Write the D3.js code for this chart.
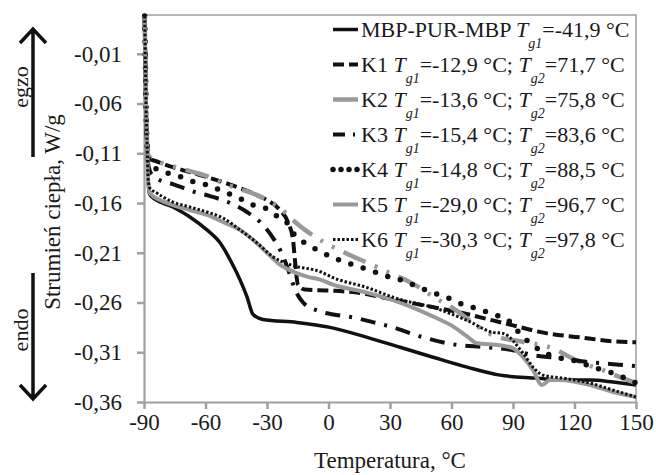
<!DOCTYPE html>
<html><head><meta charset="utf-8">
<script src="https://cdn.jsdelivr.net/npm/d3@7"></script>
<style>
body{margin:0;background:#fff}
svg{display:block}
text{font-family:"Liberation Serif","Times New Roman",serif;fill:#1a1a1a}
</style></head>
<body><svg id="c" width="656" height="475"></svg>
<script>
// ---- data ----
const xTicks = [-90, -60, -30, 0, 30, 60, 90, 120, 150];
const yTicks = [-0.36, -0.31, -0.26, -0.21, -0.16, -0.11, -0.06, -0.01];
const seriesNames = ["MBP-PUR-MBP", "K1", "K2", "K3", "K4", "K5", "K6"];
const tg1 = ["-41,9", "-12,9", "-13,6", "-15,4", "-14,8", "-29,0", "-30,3"];
const tg2 = [null, "71,7", "75,8", "83,6", "88,5", "96,7", "97,8"];

const spike = [[-89.7, 0.028], [-89.5, 0.005], [-89.2, -0.035], [-88.9, -0.075], [-88.5, -0.100]];

const dataMBP = [[-88.0,-0.135],[-87.4,-0.150],[-86.1,-0.154],[-75.9,-0.164],[-67.6,-0.174],[-59.3,-0.187],[-52.9,-0.200],[-48.0,-0.217],[-43.2,-0.237],[-39.8,-0.254],[-36.8,-0.272],[-32.0,-0.277],[-15.4,-0.280],[0.7,-0.285],[18.8,-0.295],[34.9,-0.305],[51.0,-0.315],[67.6,-0.325],[83.7,-0.333],[101.7,-0.336],[114.4,-0.338],[127.6,-0.338],[138.8,-0.340],[150,-0.343]];
const dataK1 = [[-88.2,-0.112],[-87.1,-0.116],[-85.6,-0.117],[-75.9,-0.124],[-67.6,-0.129],[-59.3,-0.134],[-51.5,-0.139],[-43.2,-0.145],[-34.9,-0.152],[-30.0,-0.157],[-23.7,-0.167],[-19.8,-0.179],[-17.3,-0.197],[-16.3,-0.219],[-14.9,-0.242],[-11.5,-0.247],[0.7,-0.248],[13.9,-0.250],[31.5,-0.257],[49.5,-0.264],[64.1,-0.270],[80.2,-0.278],[90.0,-0.283],[106.6,-0.291],[122.7,-0.295],[138.8,-0.299],[150,-0.300]];
const dataK2 = [[-88.2,-0.110],[-87.1,-0.114],[-85.6,-0.116],[-75.9,-0.123],[-67.6,-0.128],[-57.8,-0.134],[-51.5,-0.140],[-43.2,-0.146],[-34.9,-0.152],[-30.0,-0.157],[-23.7,-0.165],[-16.3,-0.179],[-11.5,-0.187],[-4.1,-0.197],[8.0,-0.210],[21.2,-0.222],[28.5,-0.229],[40.2,-0.240],[53.4,-0.257],[60.2,-0.265],[71.5,-0.282],[77.3,-0.290],[85.1,-0.296],[93.4,-0.299],[98.3,-0.301],[104.6,-0.303],[111.5,-0.308],[117.8,-0.315],[124.1,-0.321],[133.9,-0.328],[142.2,-0.335],[150,-0.341]];
const dataK3 = [[-88.0,-0.120],[-87.1,-0.128],[-84.1,-0.135],[-75.9,-0.141],[-65.1,-0.149],[-57.8,-0.153],[-48.0,-0.160],[-39.8,-0.169],[-33.4,-0.179],[-27.1,-0.195],[-22.7,-0.211],[-18.8,-0.232],[-16.3,-0.247],[-12.4,-0.260],[-5.6,-0.268],[2.2,-0.272],[12.0,-0.275],[20.2,-0.279],[31.5,-0.285],[44.6,-0.294],[60.7,-0.302],[77.3,-0.305],[90.0,-0.308],[99.8,-0.313],[112.9,-0.316],[127.6,-0.320],[138.8,-0.322],[150,-0.324]];
const dataK4 = [[-88.0,-0.115],[-87.1,-0.120],[-84.6,-0.125],[-78.3,-0.130],[-71.5,-0.134],[-65.1,-0.139],[-58.8,-0.142],[-52.9,-0.147],[-47.1,-0.152],[-41.7,-0.157],[-36.8,-0.162],[-31.0,-0.165],[-26.1,-0.172],[-20.2,-0.180],[-17.3,-0.190],[-12.4,-0.199],[-5.6,-0.207],[2.2,-0.215],[9.0,-0.220],[16.3,-0.225],[23.7,-0.230],[29.0,-0.234],[36.3,-0.238],[43.2,-0.244],[49.5,-0.249],[57.8,-0.255],[65.6,-0.262],[73.9,-0.267],[80.2,-0.272],[87.1,-0.277],[92.0,-0.288],[96.8,-0.298],[103.2,-0.308],[109.5,-0.314],[119.3,-0.318],[129.0,-0.325],[138.8,-0.331],[150,-0.341]];
const dataK5 = [[-88.0,-0.138],[-87.1,-0.150],[-82.2,-0.157],[-75.9,-0.162],[-67.6,-0.167],[-59.3,-0.172],[-51.5,-0.179],[-43.2,-0.187],[-36.8,-0.197],[-30.0,-0.210],[-23.7,-0.222],[-17.3,-0.229],[-10.5,-0.234],[-4.1,-0.237],[2.2,-0.242],[18.8,-0.250],[34.9,-0.260],[51.0,-0.274],[60.7,-0.284],[67.6,-0.294],[72.4,-0.301],[83.7,-0.303],[90.0,-0.306],[94.9,-0.315],[99.8,-0.328],[104.1,-0.343],[108.0,-0.338],[112.9,-0.338],[127.6,-0.343],[138.8,-0.350],[150,-0.355]];
const dataK6 = [[-88.0,-0.135],[-87.1,-0.145],[-83.7,-0.150],[-75.9,-0.159],[-67.6,-0.164],[-59.3,-0.169],[-51.5,-0.175],[-43.2,-0.187],[-34.9,-0.200],[-27.1,-0.214],[-18.8,-0.222],[-4.1,-0.229],[2.2,-0.235],[18.8,-0.245],[34.9,-0.257],[51.0,-0.265],[67.6,-0.278],[80.2,-0.290],[85.1,-0.291],[94.9,-0.311],[99.8,-0.325],[104.6,-0.333],[114.4,-0.336],[127.6,-0.341],[138.8,-0.348],[150,-0.355]];
const seriesData = [dataMBP, dataK1, dataK2, dataK3, dataK4, dataK5, dataK6];

// ---- styles ----
const styles = [
  {color:"#111", width:3.5, dash:null, cap:"butt"},
  {color:"#111", width:4, dash:"11,5", cap:"butt"},
  {color:"#999", width:4.5, dash:"24,10,3,10,3,10", cap:"butt"},
  {color:"#111", width:4, dash:"15,9,3,9", cap:"butt"},
  {color:"#111", width:5.5, dash:"0,13", cap:"round"},
  {color:"#999", width:4, dash:null, cap:"butt"},
  {color:"#111", width:3, dash:"2.5,2", cap:"butt"}
];

const svg = d3.select("#c");
const L = 144, R = 636, T = 15, B = 402;
const x = d3.scaleLinear().domain([-90, 150]).range([L, R]);
const y = d3.scaleLinear().domain([-0.36, 0.029]).range([B, T]);
const axisColor = "#a0a0a0";
const fmtY = v => (v < 0 ? "-" : "") + Math.abs(v).toFixed(2).replace(".", ",");
const fmtX = v => (v < 0 ? "-" : "") + Math.abs(v);

// plot border (top & right)
svg.append("path").attr("d", `M${L},${T}H${R}V${B}`).attr("fill","none")
  .attr("stroke", axisColor).attr("stroke-width", 1.5);

// axes
const gy = svg.append("g").attr("transform", `translate(${L},0)`)
  .call(d3.axisLeft(y).tickValues(yTicks).tickSize(7).tickSizeOuter(0).tickPadding(15).tickFormat(fmtY));
const gx = svg.append("g").attr("transform", `translate(0,${B})`)
  .call(d3.axisBottom(x).tickValues(xTicks).tickSize(7).tickSizeOuter(0).tickPadding(5).tickFormat(fmtX));
[gy, gx].forEach(g => {
  g.select(".domain").attr("stroke", axisColor).attr("stroke-width", 2.2);
  g.selectAll(".tick line").attr("stroke", axisColor).attr("stroke-width", 2.5);
  g.selectAll(".tick text").attr("font-size", 23).attr("fill", "#1a1a1a")
    .attr("font-family", '"Liberation Serif","Times New Roman",serif');
});

// lines
const line = d3.line().x(d => x(d[0])).y(d => y(d[1])).curve(d3.curveMonotoneX);
seriesData.forEach((d, i) => {
  const s = styles[i];
  svg.append("path").datum(spike.concat(d)).attr("d", line)
    .attr("fill", "none").attr("stroke", s.color).attr("stroke-width", s.width)
    .attr("stroke-dasharray", s.dash).attr("stroke-linecap", s.cap)
    .attr("stroke-linejoin", "round");
});

// legend
const lg = svg.append("g");
seriesNames.forEach((name, i) => {
  const base = 37 + i * 35;
  const s = styles[i];
  lg.append("line").attr("x1", 333).attr("x2", 358).attr("y1", base - 7.5).attr("y2", base - 7.5)
    .attr("stroke", s.color).attr("stroke-width", s.width)
    .attr("stroke-dasharray", i === 4 ? "0,8" : (i === 3 ? "12,8,2,8" : (i === 2 ? null : s.dash)))
    .attr("stroke-linecap", s.cap);
  const t = lg.append("text").attr("x", 361).attr("y", base).attr("font-size", 22);
  t.append("tspan").text(name + " ");
  t.append("tspan").attr("font-style", "italic").text("T");
  t.append("tspan").attr("font-style", "italic").attr("font-size", 14).attr("dy", 11).text("g1");
  if (tg2[i] === null) {
    t.append("tspan").attr("dy", -11).text("=" + tg1[i] + " \u00B0C");
  } else {
    t.append("tspan").attr("dy", -11).text("=" + tg1[i] + " \u00B0C; ");
    t.append("tspan").attr("font-style", "italic").text("T");
    t.append("tspan").attr("font-style", "italic").attr("font-size", 14).attr("dy", 11).text("g2");
    t.append("tspan").attr("dy", -11).text("=" + tg2[i] + " \u00B0C");
  }
});

// axis titles
svg.append("text").attr("transform", "translate(60,212) rotate(-90)").attr("text-anchor", "middle")
  .attr("font-size", 23).text("Strumień ciepła, W/g");
svg.append("text").attr("x", (L + R) / 2).attr("y", 468).attr("text-anchor", "middle")
  .attr("font-size", 23).text("Temperatura, \u00B0C");
svg.append("text").attr("transform", "translate(28,87) rotate(-90)").attr("text-anchor", "middle")
  .attr("font-size", 22).text("egzo");
svg.append("text").attr("transform", "translate(28,330) rotate(-90)").attr("text-anchor", "middle")
  .attr("font-size", 22).text("endo");

// arrows
const arr = svg.append("g").attr("stroke", "#111").attr("stroke-width", 3.5).attr("fill", "none");
arr.append("path").attr("d", "M33,157V29M20,43L33,29L46,43");
arr.append("path").attr("d", "M33,273V399M20,385L33,399L46,385");
</script></body></html>
